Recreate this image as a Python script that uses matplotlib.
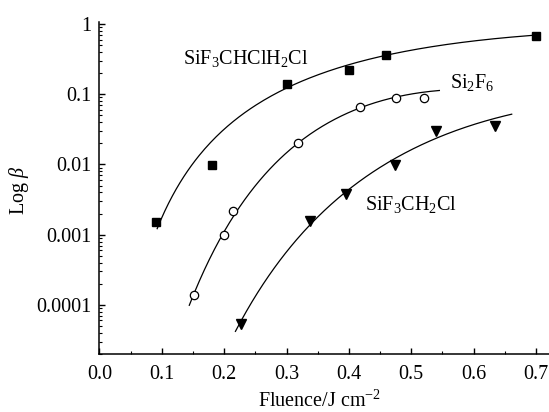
import numpy as np
import matplotlib
matplotlib.use("Agg")
import matplotlib.pyplot as plt
from matplotlib import ticker

plt.rcParams['font.family'] = ['Liberation Serif', 'DejaVu Serif']
plt.rcParams['mathtext.fontset'] = 'custom'
plt.rcParams['mathtext.rm'] = 'Liberation Serif'
plt.rcParams['mathtext.it'] = 'Liberation Serif:italic'

# measured points
sq_x = [0.09, 0.18, 0.30, 0.40, 0.46, 0.70]
sq_y = [0.0015, 0.0097, 0.138, 0.225, 0.36, 0.68]

ci_x = [0.151, 0.199, 0.214, 0.319, 0.417, 0.476, 0.520]
ci_y = [1.4e-4, 1.0e-3, 2.2e-3, 0.0204, 0.066, 0.089, 0.088]

tr_x = [0.227, 0.337, 0.396, 0.474, 0.539, 0.635]
tr_y = [5.4e-5, 1.57e-3, 3.8e-3, 9.7e-3, 0.030, 0.0356]

# points
fit1_x = [0.0925, 0.1266, 0.143, 0.170, 0.183, 0.236, 0.2895, 0.3437, 0.46, 0.557, 0.70]
fit1_y = [0.0012, 0.0054, 0.0084, 0.0162, 0.0225, 0.060, 0.109, 0.178, 0.37, 0.50, 0.70]

fit2_x = [0.144, 0.151, 0.199, 0.218, 0.32, 0.417, 0.476, 0.545]
fit2_y = [1.0e-4, 1.4e-4, 1.0e-3, 2.2e-3, 0.020, 0.066, 0.089, 0.114]

fit3_x = [0.218, 0.2633, 0.317, 0.337, 0.381, 0.397, 0.475, 0.538, 0.635, 0.661]
fit3_y = [4.2e-5, 2.0e-4, 8.4e-4, 1.58e-3, 3.1e-3, 3.8e-3, 0.0123, 0.025, 0.0444, 0.052]

labels = ['SiF$_3$CHClH$_2$Cl', 'Si$_2$F$_6$', 'SiF$_3$CH$_2$Cl']


def smooth(xs, ys, deg=3):
    lx = np.log10(xs)
    ly = np.log10(ys)
    c = np.polyfit(lx, ly, deg)
    xx = np.linspace(min(xs), max(xs), 200)
    return xx, 10 ** np.polyval(c, np.log10(xx))


fig = plt.figure(figsize=(5.49, 4.12), dpi=100)
ax = fig.add_axes([0.1812, 0.1408, 0.8188, 0.8065])

for fx, fy in [(fit1_x, fit1_y), (fit2_x, fit2_y), (fit3_x, fit3_y)]:
    xx, yy = smooth(fx, fy)
    ax.plot(xx, yy, color='black', lw=0.9)

ax.plot(sq_x, sq_y, 's', color='black', ms=6, ls='none')
ax.plot(ci_x, ci_y, 'o', mfc='white', mec='black', mew=0.9, ms=6, ls='none')
ax.plot(tr_x, tr_y, 'v', color='black', ms=7, ls='none')

ax.set_yscale('log')
ax.set_xlim(0, 0.7208)
ax.set_ylim(2e-5, 1.08)

ax.xaxis.set_major_locator(ticker.MultipleLocator(0.1))
ax.xaxis.set_minor_locator(ticker.MultipleLocator(0.05))
ax.xaxis.set_major_formatter(ticker.FormatStrFormatter('%.1f'))
ax.yaxis.set_major_locator(ticker.FixedLocator([1e-4, 1e-3, 1e-2, 1e-1, 1]))
ax.yaxis.set_major_formatter(ticker.FuncFormatter(lambda v, _: f'{v:g}'))
ax.yaxis.set_minor_locator(ticker.LogLocator(base=10, subs=np.arange(2, 10), numticks=20))
ax.yaxis.set_minor_formatter(ticker.NullFormatter())

ax.spines['top'].set_visible(False)
ax.spines['right'].set_visible(False)
for s in ['left', 'bottom']:
    ax.spines[s].set_linewidth(1.1)
ax.tick_params(which='major', direction='in', length=4.2, width=1.0, labelsize=14.5)
ax.tick_params(which='minor', direction='in', length=2.2, width=0.8)
ax.tick_params(axis='x', which='major', pad=8)
ax.tick_params(axis='y', which='major', pad=6)

ax.set_xlabel('Fluence/J cm$^{-2}$', fontsize=14.5)
ax.set_ylabel('Log $\\beta$', fontsize=14.5)
ax.xaxis.set_label_coords(0.4905, -0.111)
ax.yaxis.set_label_coords(-0.152, 0.4935)

ax.text(0.134, 0.328, labels[0], fontsize=14.5, va='center', ha='left')
ax.text(0.562, 0.145, labels[1], fontsize=14.5, va='center', ha='left')
ax.text(0.4257, 0.00265, labels[2], fontsize=14.5, va='center', ha='left')

fig.savefig('out.png', dpi=100)
